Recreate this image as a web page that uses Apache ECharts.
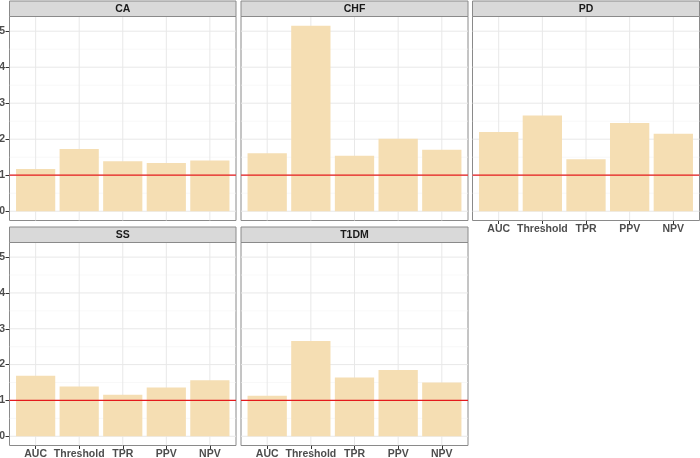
<!DOCTYPE html>
<html>
<head>
<meta charset="utf-8">
<script src="https://cdn.jsdelivr.net/npm/echarts@6/dist/echarts.min.js"></script>
<style>html,body{margin:0;padding:0;background:#fff}#chart{width:700px;height:458px}</style>
</head>
<body>
<div id="chart"></div>
<script>
// ---- data ----
const categories = ['AUC', 'Threshold', 'TPR', 'PPV', 'NPV'];
const panelNames = ['CA', 'CHF', 'PD', 'SS', 'T1DM'];
const valuesCA = [1.17, 1.73, 1.39, 1.34, 1.41];
const valuesCHF = [1.61, 5.15, 1.54, 2.01, 1.71];
const valuesPD = [2.20, 2.66, 1.44, 2.45, 2.15];
const valuesSS = [1.69, 1.39, 1.16, 1.36, 1.56];
const valuesT1DM = [1.13, 2.66, 1.64, 1.85, 1.50];
const yTicks = [0, 1, 2, 3, 4, 5];
const yMinorTicks = [0.5, 1.5, 2.5, 3.5, 4.5];
const referenceValue = 1;

const seriesValues = [valuesCA, valuesCHF, valuesPD, valuesSS, valuesT1DM];

// ---- layout (panel geometry) ----
const layout = [
  { left: 9.5,   top: 16.5,  width: 226.5, height: 204, yLabels: true,  xLabels: false },
  { left: 241,   top: 16.5,  width: 227,   height: 204, yLabels: false, xLabels: false },
  { left: 472.5, top: 16.5,  width: 227,   height: 204, yLabels: false, xLabels: true  },
  { left: 9.5,   top: 242.5, width: 226.5, height: 203, yLabels: true,  xLabels: true  },
  { left: 241,   top: 242.5, width: 227,   height: 203, yLabels: false, xLabels: true  }
];
const stripH = 15.5;
const yMin = -0.2575, yMax = 5.4075;
const xMin = 0.4, xMax = categories.length + 0.6;

const font = 'Liberation Sans, Arial, Helvetica, sans-serif';
const catPos = categories.map((c, i) => i + 1);

const grids = [], xAxes = [], yAxes = [], series = [], graphics = [];

function lineSeries(k, pts, color, width, z) {
  return {
    type: 'line', xAxisIndex: k, yAxisIndex: k, z: z, silent: true,
    symbol: 'none', showSymbol: false, animation: false,
    lineStyle: { color: color, width: width },
    itemStyle: { color: color },
    emphasis: { disabled: true },
    data: pts
  };
}

layout.forEach((p, k) => {
  grids.push({
    left: p.left, top: p.top, width: p.width, height: p.height,
    containLabel: false, outerBoundsMode: 'none',
    show: true, backgroundColor: '#ffffff', borderColor: '#8a8a8a', borderWidth: 1
  });
  xAxes.push({
    type: 'value', gridIndex: k, min: xMin, max: xMax,
    axisLine: { show: false, onZero: false },
    splitLine: { show: false },
    axisTick: { show: p.xLabels, customValues: catPos, length: 3.5, lineStyle: { color: '#333333', width: 1 } },
    axisLabel: {
      show: p.xLabels, customValues: catPos, margin: 3,
      formatter: v => categories[Math.round(v) - 1] || '',
      color: '#4d4d4d', fontWeight: 'bold', fontSize: 10.5, fontFamily: font
    }
  });
  yAxes.push({
    type: 'value', gridIndex: k, min: yMin, max: yMax,
    axisLine: { show: false, onZero: false },
    splitLine: { show: false },
    axisTick: { show: p.yLabels, customValues: yTicks, length: 4, lineStyle: { color: '#333333', width: 1 } },
    axisLabel: {
      show: p.yLabels, customValues: yTicks, margin: 4.5,
      color: '#4d4d4d', fontWeight: 'bold', fontSize: 10.5, fontFamily: font
    }
  });

  // gridlines (below bars), drawn through the axes
  yMinorTicks.forEach(v => series.push(lineSeries(k, [[xMin, v], [xMax, v]], '#f3f3f3', 0.6, 1)));
  yTicks.forEach(v => series.push(lineSeries(k, [[xMin, v], [xMax, v]], '#e8e8e8', 1, 1)));
  catPos.forEach(c => series.push(lineSeries(k, [[c, yMin], [c, yMax]], '#e8e8e8', 1, 1)));

  const band = p.width / (xMax - xMin);
  series.push({
    type: 'bar', xAxisIndex: k, yAxisIndex: k, z: 3,
    barWidth: band * 0.9,
    itemStyle: { color: '#f5deb3' },
    emphasis: { disabled: true },
    data: seriesValues[k].map((v, i) => [catPos[i], v])
  });

  // reference line (above bars)
  series.push(lineSeries(k, [[xMin, referenceValue], [xMax, referenceValue]], '#e41a1c', 1.2, 5));

  // strip
  graphics.push({
    type: 'rect', z: 10,
    shape: { x: p.left, y: p.top - stripH, width: p.width, height: stripH },
    style: { fill: '#d9d9d9', stroke: '#8a8a8a', lineWidth: 1 }
  });
  graphics.push({
    type: 'text', z: 11,
    x: p.left + p.width / 2, y: p.top - stripH / 2,
    style: {
      text: panelNames[k], fill: '#1a1a1a', font: 'bold 10.5px ' + font,
      align: 'center', verticalAlign: 'middle'
    }
  });
});

const chart = echarts.init(document.getElementById('chart'), null, { renderer: 'canvas' });
chart.setOption({
  animation: false,
  backgroundColor: '#ffffff',
  grid: grids,
  xAxis: xAxes,
  yAxis: yAxes,
  series: series,
  graphic: graphics
});
</script>
</body>
</html>
